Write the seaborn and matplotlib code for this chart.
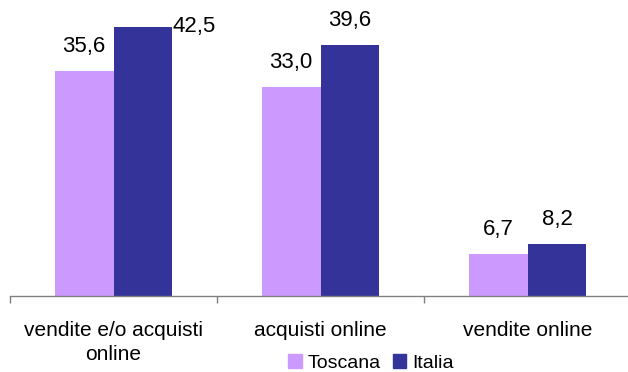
import pandas as pd
import matplotlib
matplotlib.use("Agg")
from matplotlib import pyplot as plt
from matplotlib.ticker import FixedLocator
import seaborn as sns

categories = ["vendite e/o acquisti\nonline", "acquisti online", "vendite online"]
series = ["Toscana", "Italia"]
toscana = [35.6, 33.0, 6.7]
italia = [42.5, 39.6, 8.2]
colors = ["#CC99FF", "#333399"]

df = pd.DataFrame({
    "categoria": categories * 2,
    "area": [series[0]] * 3 + [series[1]] * 3,
    "valore": toscana + italia,
})

sns.set_style("white")
plt.rcParams["font.family"] = ["Liberation Sans", "DejaVu Sans"]
plt.rcParams["text.color"] = "black"
plt.rcParams["xtick.color"] = "black"

fig = plt.figure(figsize=(6.28, 3.72), dpi=100)
ax = fig.add_axes([10 / 628, 76 / 372, 621 / 628, 285 / 372])

sns.barplot(data=df, x="categoria", y="valore", hue="area", palette=colors,
            width=0.57, gap=0, saturation=1, linewidth=0, ax=ax, legend=False)

ax.set_xlim(-0.5, 2.5)
ax.set_ylim(0, 45)
ax.set_xlabel("")
ax.set_ylabel("")
ax.set_yticks([])
for s in ["left", "top", "right"]:
    ax.spines[s].set_visible(False)
ax.spines["bottom"].set_color("#808080")
ax.spines["bottom"].set_linewidth(1)

ax.tick_params(axis="x", which="major", length=0, pad=18, labelsize=15,
               labelcolor="black")
ax.xaxis.set_minor_locator(FixedLocator([-0.5, 0.5, 1.5, 2.5]))
ax.tick_params(axis="x", which="minor", length=5, color="#808080", width=1,
               direction="out", bottom=True)
for lbl in ax.get_xticklabels():
    lbl.set_linespacing(1.35)

top_val = max(italia)
for cont in ax.containers:
    for bar in cont:
        h = bar.get_height()
        txt = f"{h:.1f}".replace(".", ",")
        if h == top_val:
            ax.annotate(txt, (bar.get_x() + bar.get_width(), h), xytext=(0, 0),
                        textcoords="offset pixels", ha="left", va="center",
                        fontsize=16, color="black", annotation_clip=False)
        else:
            ax.annotate(txt, (bar.get_x() + bar.get_width() / 2, h), xytext=(0, 19),
                        textcoords="offset pixels", ha="center", va="baseline",
                        fontsize=16, color="black")

handles = [plt.Rectangle((0, 0), 1, 1, color=c) for c in colors]
fig.legend(handles, series, loc="center", bbox_to_anchor=(371 / 628, 9 / 372),
           ncol=2, frameon=False, fontsize=14, handlelength=0.7, handleheight=0.7,
           handletextpad=0.3, columnspacing=0.6, borderaxespad=0, borderpad=0)

fig.savefig("out.png", dpi=100)
